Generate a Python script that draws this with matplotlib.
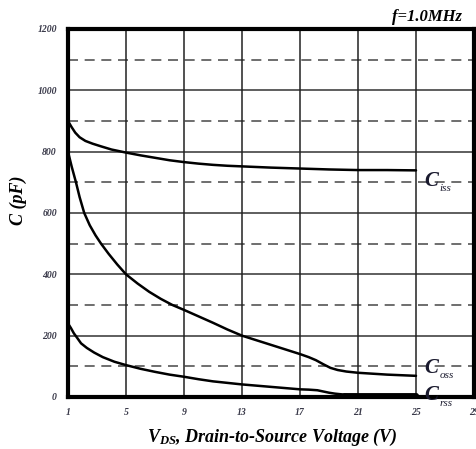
import numpy as np
import matplotlib
matplotlib.use("Agg")
import matplotlib.pyplot as plt

# capacitance vs drain-source voltage
vds_ciss = [1, 1.25, 1.5, 1.8, 2.2, 2.7, 3.3, 4, 5, 6, 7, 8, 9, 10, 11, 12, 13,
            15, 17, 19, 21, 23, 25]
ciss = [900, 880, 862, 847, 835, 826, 817, 807, 797, 788, 780, 772, 766, 761,
        757, 754, 752, 748, 745, 742, 740, 740, 739]

vds_coss = [1, 1.25, 1.55, 1.8, 2.12, 2.5, 2.9, 3.28, 3.8, 4.4, 5, 5.8, 6.6, 7.4,
            8.2, 9, 10, 11, 12, 13, 14, 15, 16, 17, 17.6, 18.1, 18.6, 19.1, 19.6,
            20.2, 21, 22, 23, 24, 25]
coss = [800, 752, 700, 652, 600, 560, 527, 500, 467, 432, 400, 370, 343, 320,
        300, 284, 263, 242, 220, 200, 185, 170, 155, 140, 130, 120, 107, 95, 88,
        83, 79, 76, 73, 71, 69]

vds_crss = [1, 1.2, 1.4, 1.6, 1.9, 2.3, 2.8, 3.4, 4.2, 5, 6, 7, 8, 9, 10, 11, 12,
            13, 14, 15, 16, 17, 17.6, 18.2, 18.6, 19, 19.4, 19.8, 20.3, 21, 25]
crss = [240, 225, 208, 195, 175, 160, 145, 130, 115, 104, 92, 82, 73, 66, 58, 51,
        46, 41, 37, 33, 29, 25, 24, 22, 18, 14, 11, 9, 7, 6, 6]

x_ticks = [1, 5, 9, 13, 17, 21, 25, 29]
y_ticks = [0, 200, 400, 600, 800, 1000, 1200]
y_dashed = [100, 300, 500, 700, 900, 1100]

serif = ["Liberation Serif", "DejaVu Serif"]
plt.rcParams["mathtext.fontset"] = "custom"
plt.rcParams["mathtext.rm"] = "Liberation Serif:bold:italic"
plt.rcParams["mathtext.it"] = "Liberation Serif:bold:italic"
plt.rcParams["lines.solid_joinstyle"] = "round"
plt.rcParams["lines.solid_capstyle"] = "round"
tick_col = "#3a3a4a"
lbl_col = "#1a1a2e"

fig = plt.figure(figsize=(4.76, 4.49), dpi=100)
ax = fig.add_axes([68 / 476, 52 / 449, 406 / 476, 368 / 449])

for y in y_dashed:
    ax.axhline(y, color="#555555", lw=1.2, ls=(0, (6, 4)), zorder=1)
for y in y_ticks[1:-1]:
    ax.axhline(y, color="#333333", lw=1.1, zorder=1)
for x in x_ticks[1:-1]:
    ax.axvline(x, color="#222222", lw=1.1, zorder=1)

ax.plot(vds_ciss, ciss, color="black", lw=1.8, zorder=3)
ax.plot(vds_coss, coss, color="black", lw=1.8, zorder=3)
ax.plot(vds_crss, crss, color="black", lw=1.8, zorder=3)
ax.plot([20, 25], [5, 5], color="black", lw=3.5, zorder=3)

ax.set_xlim(1, 29)
ax.set_ylim(0, 1200)
ax.set_xticks(x_ticks)
ax.set_yticks(y_ticks)
ax.tick_params(length=0, pad=8, labelsize=7, labelcolor=tick_col)
for lab in ax.get_xticklabels() + ax.get_yticklabels():
    lab.set_family(serif)
    lab.set_fontweight("bold")
    lab.set_fontstyle("italic")

for s in ax.spines.values():
    s.set_linewidth(3)
    s.set_color("black")

big = dict(family=serif, fontweight="bold", fontstyle="italic", color=lbl_col,
           fontsize=15, ha="left", va="center", zorder=5, clip_on=False)
small = dict(family=serif, fontstyle="italic", color=lbl_col,
             fontsize=8, ha="left", va="center", zorder=5, clip_on=False)
ax.text(25.6, 705, "C", **big)
ax.text(26.6, 680, "iss", **small)
ax.text(25.6, 95, "C", **big)
ax.text(26.6, 70, "oss", **small)
ax.text(25.6, 5, "C", **big)
ax.text(26.6, -20, "rss", **small)

fig.text(462 / 476, 1 - 17 / 449, "f=1.0MHz", family=serif, fontweight="bold",
         fontstyle="italic", fontsize=12, ha="right", va="center")
fig.text(18 / 476, 1 - 200 / 449, "C (pF)", family=serif, fontweight="bold",
         fontstyle="italic", fontsize=13, rotation=90, ha="center", va="center")
fig.text(272 / 476, 1 - 437 / 449, r"$V_{DS}$, Drain-to-Source Voltage (V)",
         family=serif, fontweight="bold", fontstyle="italic", fontsize=13,
         ha="center", va="center")

fig.savefig("out.png", dpi=100)
